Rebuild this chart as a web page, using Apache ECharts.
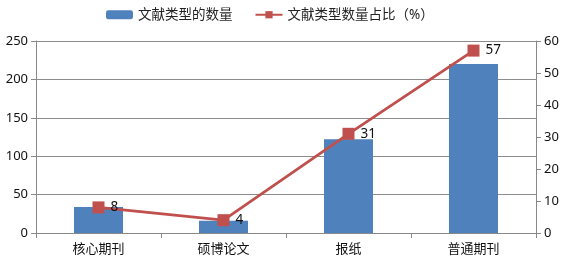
<!DOCTYPE html>
<html>
<head>
<meta charset="utf-8">
<script src="https://cdn.jsdelivr.net/npm/echarts@6/dist/echarts.min.js"></script>
<style>
  html, body { margin: 0; padding: 0; background: #fff; }
  #chart { width: 566px; height: 260px; }
</style>
</head>
<body>
<div id="chart"></div>
<script>
const categories = ['核心期刊', '硕博论文', '报纸', '普通期刊'];
const countValues = [34, 16, 122, 220];
const shareValues = [8, 4, 31, 57];
const leftTicks = { min: 0, max: 250, interval: 50 };
const rightTicks = { min: 0, max: 60, interval: 10 };

const font = '"Noto Sans", "Noto Sans CJK SC", sans-serif';
const chart = echarts.init(document.getElementById('chart'));

const option = {
  animation: false,
  textStyle: { fontFamily: font },
  legend: {
    top: 3,
    left: 101,
    itemWidth: 27,
    itemHeight: 9,
    itemGap: 22,
    textStyle: { fontSize: 13.5, color: '#222', fontFamily: font },
    data: ['文献类型的数量', '文献类型数量占比（%）']
  },
  grid: { left: 36, right: 30, top: 41, bottom: 27 },
  xAxis: {
    type: 'category',
    data: categories,
    axisLine: { lineStyle: { color: '#888' } },
    axisTick: { show: true, length: 5, lineStyle: { color: '#888' } },
    axisLabel: { color: '#111', fontSize: 13, margin: 10, fontFamily: font }
  },
  yAxis: [
    {
      type: 'value',
      min: leftTicks.min, max: leftTicks.max, interval: leftTicks.interval,
      axisLine: { show: true, lineStyle: { color: '#888' } },
      axisTick: { show: true, length: 5, lineStyle: { color: '#888' } },
      axisLabel: { color: '#111', fontSize: 13, margin: 8, fontFamily: font },
      splitLine: { lineStyle: { color: '#8c8c8c' } }
    },
    {
      type: 'value',
      min: rightTicks.min, max: rightTicks.max, interval: rightTicks.interval,
      axisLine: { show: true, lineStyle: { color: '#888' } },
      axisTick: { show: true, length: 5, lineStyle: { color: '#888' } },
      axisLabel: { color: '#111', fontSize: 13, margin: 8, fontFamily: font },
      splitLine: { show: false }
    }
  ],
  series: [
    {
      name: '文献类型的数量',
      type: 'bar',
      data: countValues,
      barWidth: 49,
      itemStyle: { color: '#4f81bd' }
    },
    {
      name: '文献类型数量占比（%）',
      type: 'line',
      yAxisIndex: 1,
      data: shareValues,
      symbol: 'rect',
      symbolSize: 12,
      lineStyle: { color: '#c0504d', width: 2.8 },
      itemStyle: { color: '#c0504d' },
      label: {
        show: true,
        position: 'right',
        distance: 6,
        color: '#111',
        fontSize: 13.5,
        fontFamily: font
      }
    }
  ]
};

chart.setOption(option);
</script>
</body>
</html>
